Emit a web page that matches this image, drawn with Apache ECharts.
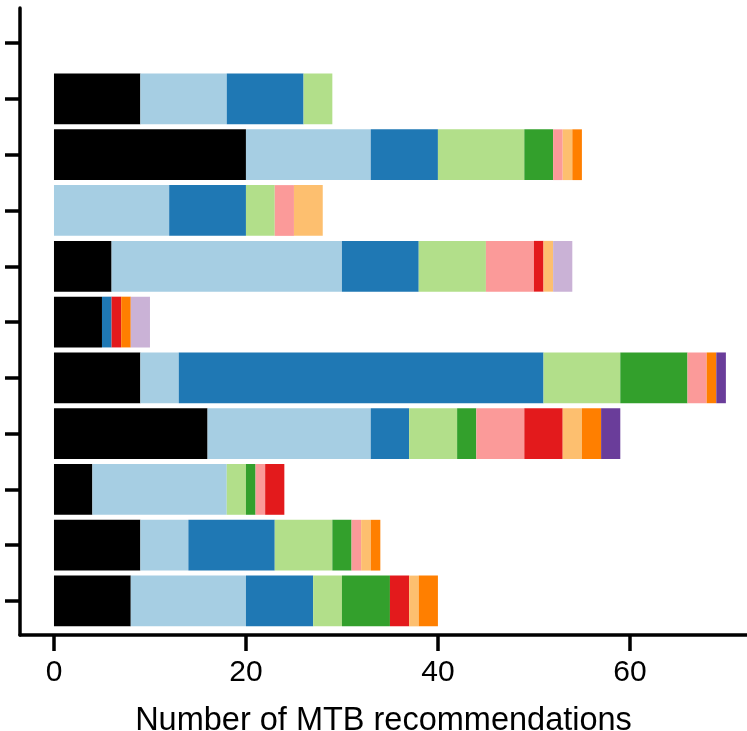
<!DOCTYPE html>
<html>
<head>
<meta charset="utf-8">
<script src="https://cdn.jsdelivr.net/npm/echarts@6/dist/echarts.min.js"></script>
<style>
  html, body { margin: 0; padding: 0; background: #fff; }
  #chart { width: 747px; height: 731px; }
</style>
</head>
<body>
<div id="chart"></div>
<script>
// Row positions on the vertical axis (top tick 0 carries no bar)
const rowPositions = [1, 2, 3, 4, 5, 6, 7, 8, 9, 10];
const rowTicks = [0, 1, 2, 3, 4, 5, 6, 7, 8, 9, 10];
const xTicks = [0, 20, 40, 60];

// Counts per row, top to bottom, for each stacked group
const groupBlack    = [9, 20, 0, 6, 5, 9, 16, 4, 9, 8];
const groupLtBlue   = [9, 13, 12, 24, 0, 4, 17, 14, 5, 12];
const groupBlue     = [8, 7, 8, 8, 1, 38, 4, 0, 9, 7];
const groupLtGreen  = [3, 9, 3, 7, 0, 8, 5, 2, 6, 3];
const groupGreen    = [0, 3, 0, 0, 0, 7, 2, 1, 2, 5];
const groupPink     = [0, 1, 2, 5, 0, 2, 5, 1, 1, 0];
const groupRed      = [0, 0, 0, 1, 1, 0, 4, 2, 0, 2];
const groupLtOrange = [0, 1, 3, 1, 0, 0, 2, 0, 1, 1];
const groupOrange   = [0, 1, 0, 0, 1, 1, 2, 0, 1, 2];
const groupLavender = [0, 0, 0, 2, 2, 0, 0, 0, 0, 0];
const groupPurple   = [0, 0, 0, 0, 0, 1, 2, 0, 0, 0];

const groups = [
  { name: 'black',    values: groupBlack,    color: '#000000' },
  { name: 'ltBlue',   values: groupLtBlue,   color: '#a6cee3' },
  { name: 'blue',     values: groupBlue,     color: '#1f78b4' },
  { name: 'ltGreen',  values: groupLtGreen,  color: '#b2df8a' },
  { name: 'green',    values: groupGreen,    color: '#33a02c' },
  { name: 'pink',     values: groupPink,     color: '#fb9a99' },
  { name: 'red',      values: groupRed,      color: '#e31a1c' },
  { name: 'ltOrange', values: groupLtOrange, color: '#fdbf6f' },
  { name: 'orange',   values: groupOrange,   color: '#ff7f00' },
  { name: 'lavender', values: groupLavender, color: '#cab2d6' },
  { name: 'purple',   values: groupPurple,   color: '#6a3d9a' }
];

// Build [start, end, row] segments by accumulating along each row
const running = rowPositions.map(() => 0);
const series = groups.map(g => {
  const data = [];
  g.values.forEach((v, i) => {
    const start = running[i];
    running[i] += v;
    if (v > 0) data.push([start, running[i], rowPositions[i]]);
  });
  return {
    type: 'custom',
    name: g.name,
    encode: { x: [0, 1], y: 2 },
    data: data,
    renderItem: function (params, api) {
      const p0 = api.coord([api.value(0), api.value(2)]);
      const p1 = api.coord([api.value(1), api.value(2)]);
      const h = api.size([0, 0.91])[1];
      return {
        type: 'rect',
        shape: { x: p0[0], y: p0[1] - h / 2, width: p1[0] - p0[0], height: h },
        style: { fill: g.color }
      };
    }
  };
});

const chart = echarts.init(document.getElementById('chart'), null, { renderer: 'canvas' });
chart.setOption({
  animation: false,
  backgroundColor: '#ffffff',
  grid: { left: 20, right: 0, top: 8, bottom: 96, outerBoundsMode: 'none', containLabel: false },
  xAxis: {
    type: 'value',
    min: -3.54,
    max: 72.2,
    name: 'Number of MTB recommendations',
    nameLocation: 'middle',
    nameGap: 70,
    nameTextStyle: { fontFamily: 'Liberation Sans', fontSize: 32.5, color: '#000' },
    axisLine: { show: true, onZero: false, lineStyle: { color: '#000', width: 3.5 } },
    axisTick: { show: true, length: 16, customValues: xTicks, lineStyle: { color: '#000', width: 3.5 } },
    axisLabel: { customValues: xTicks, fontFamily: 'Liberation Sans', fontSize: 30, color: '#000', margin: 23 },
    splitLine: { show: false }
  },
  yAxis: {
    type: 'value',
    inverse: true,
    min: -0.63,
    max: 10.61,
    axisLine: { show: true, onZero: false, lineStyle: { color: '#000', width: 3.5 } },
    axisTick: { show: true, length: 15, customValues: rowTicks, lineStyle: { color: '#000', width: 3.5 } },
    axisLabel: { show: false },
    splitLine: { show: false }
  },
  series: series
});
</script>
</body>
</html>
